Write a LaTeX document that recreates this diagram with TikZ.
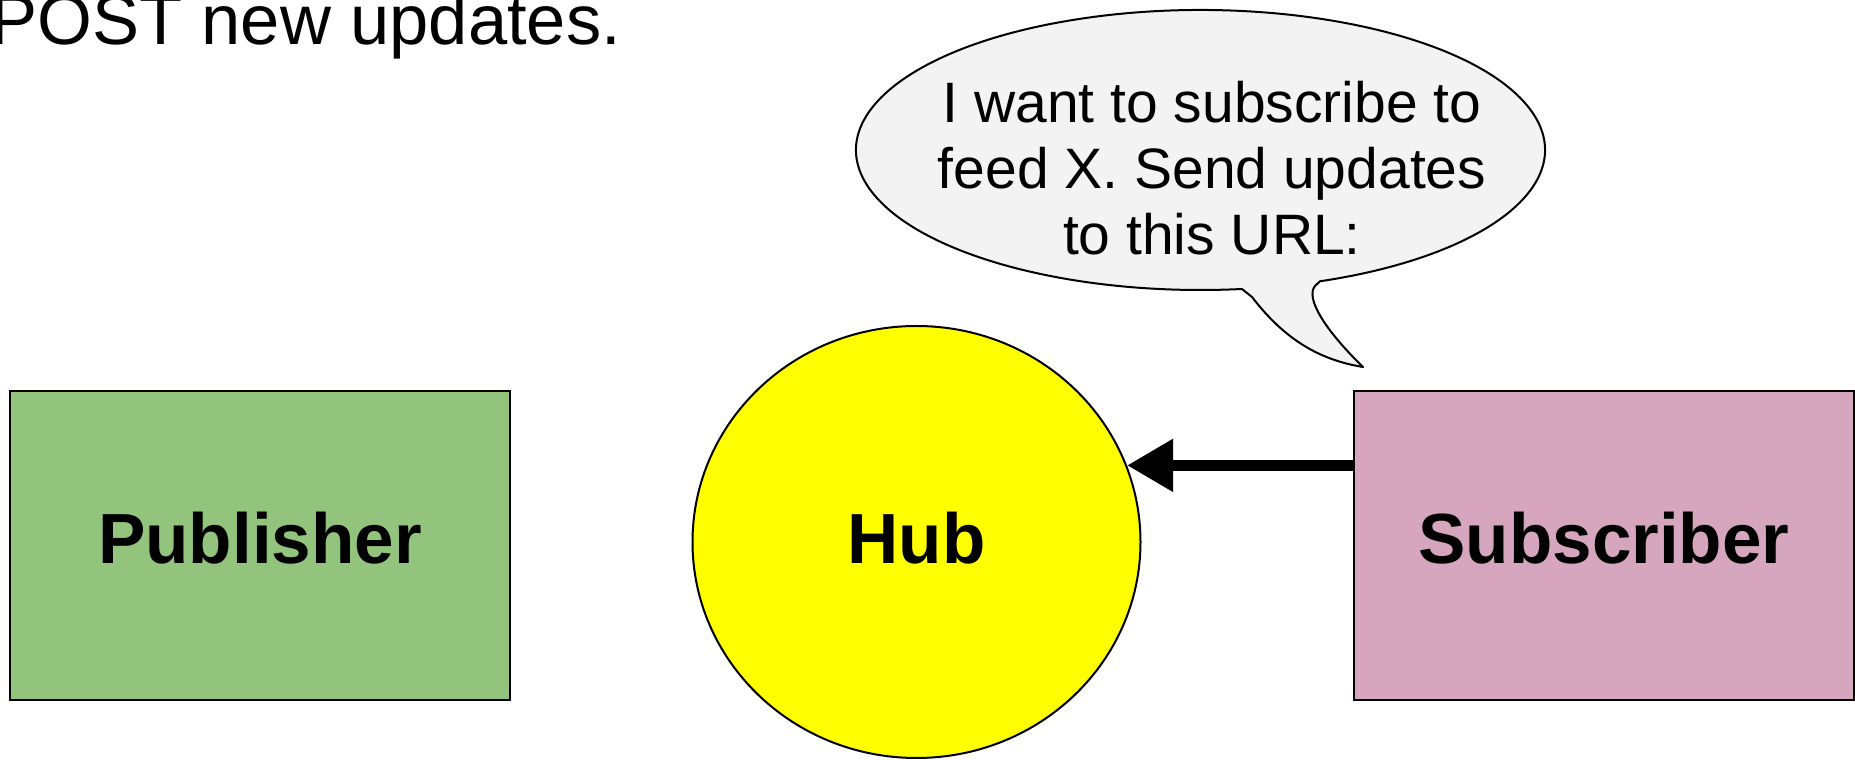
\documentclass[tikz,border=0pt]{standalone}
\usepackage{fontspec}
\setmainfont{Liberation Sans}
\usetikzlibrary{shapes.geometric,arrows.meta}
\definecolor{pubgreen}{HTML}{93C47D}
\definecolor{subpink}{HTML}{D5A6BD}
\definecolor{hubyellow}{HTML}{FFFF00}
\definecolor{bubblegrey}{HTML}{F3F3F3}

\begin{document}
\begin{tikzpicture}[x=1pt,y=1pt,
	party/.style={draw, line width=2pt, minimum width=500pt, minimum height=309pt, text height=51pt, text depth=15pt, font=\fontsize{71}{80}\selectfont\bfseries},
	push/.style={line width=11pt, -{Triangle[length=46pt,width=50pt]}}]
\useasboundingbox (0,0) rectangle (1855,760);
%heading, runs off the top left
\node[anchor=base west, inner sep=0, font=\fontsize{70.5}{80}\selectfont] (heading) at (-10,715) {POST new updates.};
%the three parties
\node[party, fill=pubgreen] (publisher) at (260,214.5) {Publisher};
\node[ellipse, draw, line width=2pt, fill=hubyellow, minimum width=448pt, minimum height=432pt, inner sep=0, text height=51pt, text depth=8pt, font=\fontsize{71}{80}\selectfont\bfseries] (hub) at (916.5,218) {Hub};
\node[party, fill=subpink] (subscriber) at (1604,214.5) {Subscriber};
%subscription request
\draw[push] (subscriber.west |- hub.20.5) -- (hub.20.5);
%speech bubble
\filldraw[fill=bubblegrey, line width=2pt, line join=round] (1320,478.7) arc[start angle=-69.7, end angle=276.9, x radius=344.5, y radius=140]
	-- (1252,463) .. controls (1285,420) and (1320,400) .. (1363,393)
	.. controls (1325,430) and (1305,462) .. (1315,474) .. controls (1317,477) .. cycle;
\node[align=center, inner sep=0, font=\fontsize{57}{66}\selectfont] (request) at (1212,592) {I want to subscribe to\\feed X. Send updates\\to this URL:};
\end{tikzpicture}
\end{document}
